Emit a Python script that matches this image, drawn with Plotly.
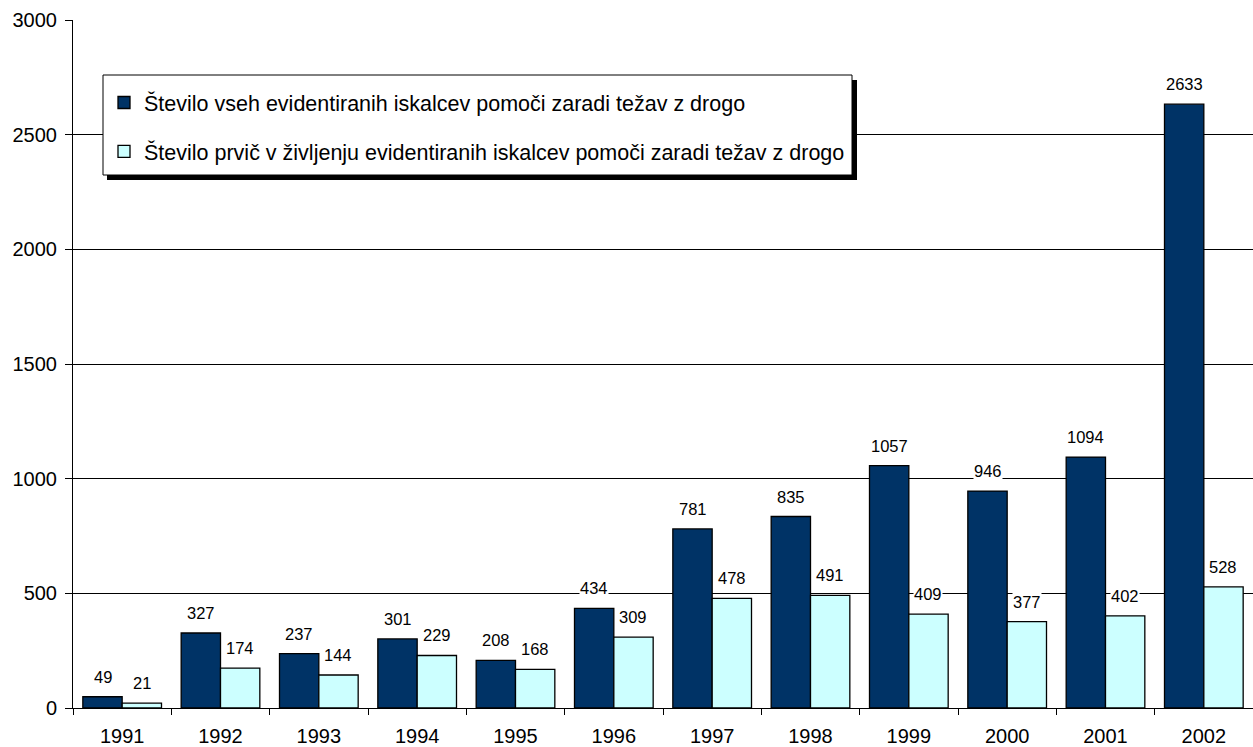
import plotly.graph_objects as go

# Registered help-seekers due to drug problems, by year
years = ["1991", "1992", "1993", "1994", "1995", "1996",
         "1997", "1998", "1999", "2000", "2001", "2002"]
all_seekers = [49, 327, 237, 301, 208, 434, 781, 835, 1057, 946, 1094, 2633]
first_time = [21, 174, 144, 229, 168, 309, 478, 491, 409, 377, 402, 528]

name_all = "Število vseh evidentiranih iskalcev pomoči zaradi težav z drogo"
name_first = "Število prvič v življenju evidentiranih iskalcev pomoči zaradi težav z drogo"

NAVY = "#003366"
CYAN = "#CCFFFF"
FONT = "Arial, Liberation Sans, sans-serif"

# figure geometry (pixels)
W, H = 1253, 747
ML, MR, MT, MB = 73, 0, 20, 39
PW = W - ML - MR
PH = H - MT - MB


def px_x(p):
    return (p - ML) / PW


def px_y(p):
    return (H - MB - p) / PH


fig = go.Figure()
fig.add_trace(go.Bar(
    x=years, y=all_seekers, name=name_all, legendgroup="a",
    marker=dict(color=NAVY, line=dict(color="black", width=1.3)),
))
fig.add_trace(go.Bar(
    x=years, y=first_time, name=name_first, legendgroup="b",
    marker=dict(color=CYAN, line=dict(color="black", width=1.3)),
))

# value labels above each bar (x given as category index)
cat_w = PW / len(years)
offset = cat_w * 0.2
for series, shift in ((all_seekers, -offset), (first_time, offset)):
    for i, v in enumerate(series):
        fig.add_annotation(
            x=i, y=v, xref="x", yref="y", text=str(v), showarrow=False,
            xshift=shift, yanchor="bottom", yshift=10,
            bgcolor="white", borderpad=0,
            font=dict(family=FONT, size=16.5, color="black"),
        )

# legend frame with drop shadow
fig.add_shape(type="rect", xref="paper", yref="paper", layer="above",
              x0=px_x(107), x1=px_x(857), y0=px_y(80), y1=px_y(180),
              fillcolor="black", line=dict(width=0))
fig.add_shape(type="rect", xref="paper", yref="paper", layer="above",
              x0=px_x(103), x1=px_x(852), y0=px_y(75), y1=px_y(175),
              fillcolor="white", line=dict(color="black", width=1))

fig.update_layout(
    width=W, height=H,
    margin=dict(l=ML, r=MR, t=MT, b=MB, pad=0),
    paper_bgcolor="white", plot_bgcolor="white",
    barmode="group", bargap=0.2, bargroupgap=0,
    font=dict(family=FONT, size=20, color="black"),
    showlegend=True,
    legend=dict(
        x=px_x(104), y=px_y(82), xanchor="left", yanchor="top",
        bgcolor="rgba(0,0,0,0)", borderwidth=0,
        font=dict(family=FONT, size=21.5, color="black"),
        tracegroupgap=18, itemclick=False,
    ),
    xaxis=dict(
        type="category", categoryorder="array", categoryarray=years,
        range=[-0.5, len(years) - 0.5], autorange=False,
        showline=True, linecolor="black", linewidth=1,
        ticks="outside", tickson="boundaries", ticklen=6, tickcolor="black",
        showgrid=False, tickfont=dict(size=20), tickangle=0,
        ticklabelstandoff=10,
    ),
    yaxis=dict(
        range=[0, 3000], dtick=500, showline=True, linecolor="black",
        linewidth=1, ticks="outside", ticklen=7, tickcolor="black",
        showgrid=True, gridcolor="black", gridwidth=1, zeroline=False,
        tickfont=dict(size=20), ticklabelstandoff=4,
    ),
)

fig.write_html("out.html")
